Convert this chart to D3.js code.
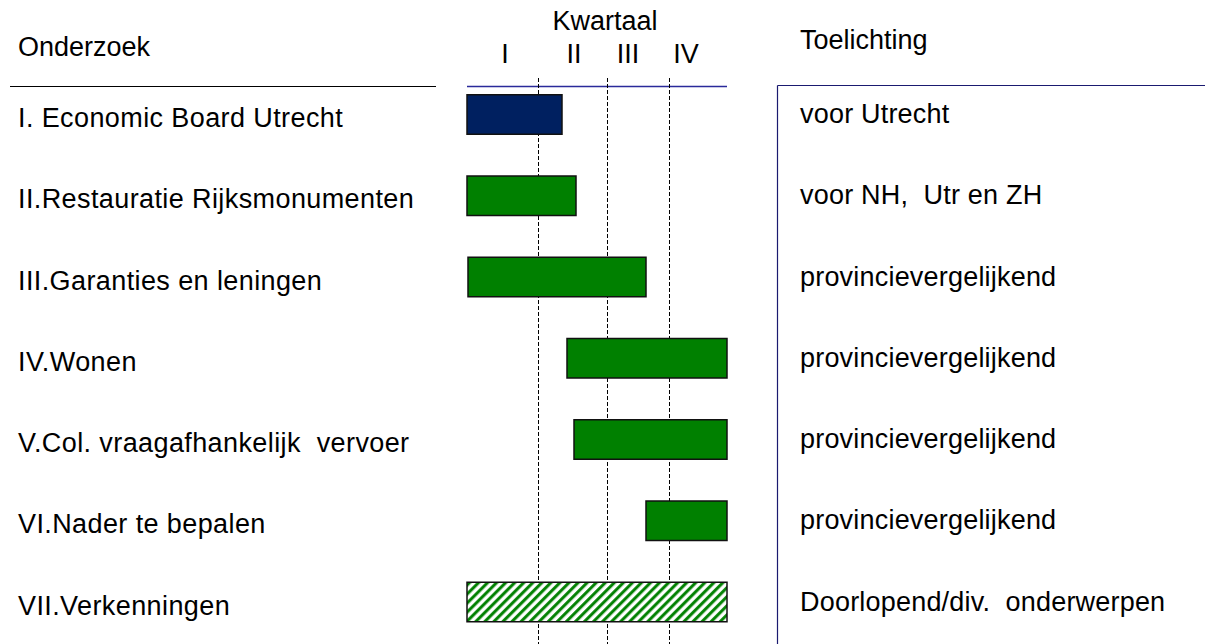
<!DOCTYPE html>
<html>
<head>
<meta charset="utf-8">
<script src="https://cdn.jsdelivr.net/npm/d3@7"></script>
<style>
  html, body { margin: 0; padding: 0; background: #fff; }
  svg text { font-family: "Liberation Sans", Arial, sans-serif; fill: #000; white-space: pre; }
</style>
</head>
<body>
<svg id="chart" width="1205" height="644"></svg>
<script>
// ---- data ----
const categories = [
  "I. Economic Board Utrecht",
  "II.Restauratie Rijksmonumenten",
  "III.Garanties en leningen",
  "IV.Wonen",
  "V.Col. vraagafhankelijk  vervoer",
  "VI.Nader te bepalen",
  "VII.Verkenningen"
];
// time in weeks (0..52)
const starts = [0, 0, 0.2, 20, 21.4, 35.8, 0];
const ends   = [19, 21.8, 35.8, 52, 52, 52, 52];
const kinds  = ["navy", "green", "green", "green", "green", "green", "hatch"];
const notes = [
  "voor Utrecht",
  "voor NH,  Utr en ZH",
  "provincievergelijkend",
  "provincievergelijkend",
  "provincievergelijkend",
  "provincievergelijkend",
  "Doorlopend/div.  onderwerpen"
];
const quarterLabels = ["I", "II", "III", "IV"];
const quarterLabelPos = [7.6, 21.4, 32.2, 43.8];
const quarterBoundaries = [14.2, 28, 40.4];
const yearDomain = [0, 52];

// ---- drawing ----
const svg = d3.select("#chart");
const FS = 27;

const x = d3.scaleLinear().domain(yearDomain).range([467, 727]);
const y = d3.scalePoint().domain(categories).range([114.5, 602]);
const barH = 39.5;

const defs = svg.append("defs");
const pat = defs.append("pattern")
  .attr("id", "hatch")
  .attr("patternUnits", "userSpaceOnUse")
  .attr("width", 6.4).attr("height", 6.4)
  .attr("patternTransform", "rotate(45)");
pat.append("rect").attr("width", 6.4).attr("height", 6.4).attr("fill", "#fff");
pat.append("line").attr("x1", 1.6).attr("y1", 0).attr("x2", 1.6).attr("y2", 6.4)
  .attr("stroke", "#008000").attr("stroke-width", 3);

const fills = { navy: "#002060", green: "#008000", hatch: "url(#hatch)" };

// header texts
svg.append("text").attr("x", 18).attr("y", 56).attr("font-size", FS).text("Onderzoek");
svg.append("text").attr("x", 800).attr("y", 49).attr("font-size", FS).text("Toelichting");
svg.append("text").attr("x", 605).attr("y", 30).attr("font-size", FS).attr("text-anchor", "middle").text("Kwartaal");
svg.selectAll("text.q").data(quarterLabels).join("text")
  .attr("class", "q")
  .attr("x", (d, i) => x(quarterLabelPos[i]))
  .attr("y", 63)
  .attr("font-size", FS)
  .attr("text-anchor", "middle")
  .text(d => d);

// separator lines
svg.append("line").attr("x1", 10).attr("x2", 436).attr("y1", 86.5).attr("y2", 86.5)
  .attr("stroke", "#000").attr("stroke-width", 1);
svg.append("line").attr("x1", x(yearDomain[0])).attr("x2", x(yearDomain[1])).attr("y1", 86.5).attr("y2", 86.5)
  .attr("stroke", "#2a2a9a").attr("stroke-width", 1.3);
svg.append("line").attr("x1", 777.5).attr("x2", 1205).attr("y1", 85.5).attr("y2", 85.5)
  .attr("stroke", "#1a1a70").attr("stroke-width", 1.2);
svg.append("line").attr("x1", 777.5).attr("x2", 777.5).attr("y1", 85.5).attr("y2", 644)
  .attr("stroke", "#1a1a70").attr("stroke-width", 1.2);

// quarter boundary dashed lines
svg.selectAll("line.qb").data(quarterBoundaries).join("line")
  .attr("class", "qb")
  .attr("x1", d => Math.round(x(d)) + 0.5).attr("x2", d => Math.round(x(d)) + 0.5)
  .attr("y1", 78).attr("y2", 644)
  .attr("stroke", "#000").attr("stroke-width", 1)
  .attr("stroke-dasharray", "4,2");

// bars
svg.selectAll("rect.bar").data(categories).join("rect")
  .attr("class", "bar")
  .attr("x", (d, i) => x(starts[i]))
  .attr("width", (d, i) => x(ends[i]) - x(starts[i]))
  .attr("y", d => y(d) - barH / 2)
  .attr("height", barH)
  .attr("fill", (d, i) => fills[kinds[i]])
  .attr("stroke", "#111")
  .attr("stroke-width", 1.5);

// row labels
svg.selectAll("text.cat").data(categories).join("text")
  .attr("class", "cat")
  .attr("x", 18)
  .attr("y", d => y(d) + 12.5)
  .attr("font-size", FS)
  .attr("letter-spacing", 0.4)
  .text(d => d);

// notes
svg.selectAll("text.note").data(notes).join("text")
  .attr("class", "note")
  .attr("x", 800)
  .attr("y", (d, i) => y(categories[i]) + 8.5)
  .attr("font-size", FS)
  .attr("letter-spacing", 0.2)
  .text(d => d);
</script>
</body>
</html>
